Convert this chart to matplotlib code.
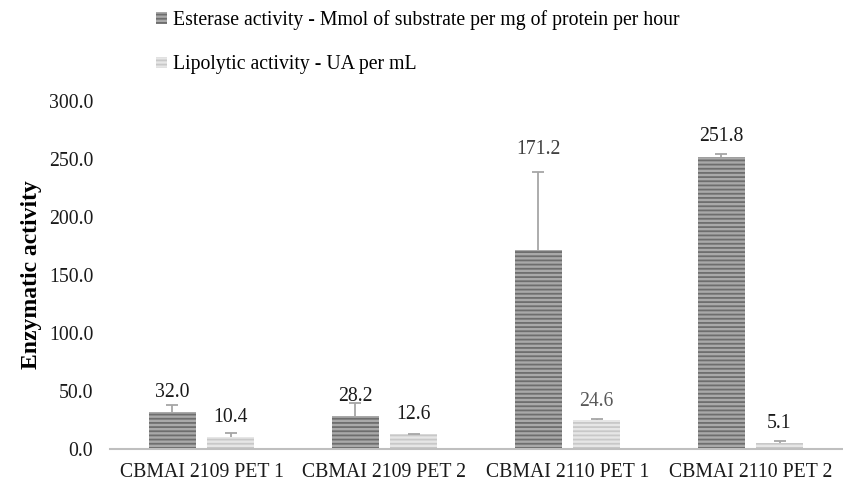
import numpy as np
import matplotlib
matplotlib.use('Agg')
import matplotlib.pyplot as plt

# Data
categories = ["CBMAI 2109 PET 1", "CBMAI 2109 PET 2", "CBMAI 2110 PET 1", "CBMAI 2110 PET 2"]
esterase = [32.0, 28.2, 171.2, 251.8]
esterase_err = [6.0, 11.4, 67.6, 2.5]
lipolytic = [10.4, 12.6, 24.6, 5.1]
lipolytic_err = [3.4, 0.5, 1.3, 1.8]
series_names = ["Esterase activity - Mmol of substrate per mg of protein per hour",
                "Lipolytic activity - UA per mL"]
yticks = [0, 50, 100, 150, 200, 250, 300]

# label gap above the error bar (data units), tuned per label
est_label_pad = [11, 6, 19, 15]
lip_label_pad = [13, 17, 15, 15]
est_label_colors = ['#1a1a1a', '#1a1a1a', '#404040', '#1a1a1a']
lip_label_colors = ['#1a1a1a', '#1a1a1a', '#595959', '#1a1a1a']

plt.rcParams['font.family'] = ['Liberation Serif', 'DejaVu Serif']
plt.rcParams['hatch.linewidth'] = 1.3

fig = plt.figure(figsize=(8.43, 4.82), dpi=100, facecolor='white')
ax = fig.add_axes([110 / 843, 1 - 449 / 482, 732 / 843, 348 / 482])

x = np.arange(len(categories))
width = 0.262
gap = 0.055
x_est = x - (width + gap) / 2
x_lip = x + (width + gap) / 2

b1 = ax.bar(x_est, esterase, width, color='#a9a9a9', edgecolor='#6e6e6e',
            hatch='----', linewidth=0, label=series_names[0])
b2 = ax.bar(x_lip, lipolytic, width, color='#e6e6e6', edgecolor='#c8c8c8',
            hatch='----', linewidth=0, label=series_names[1])


def plus_error(xs, vals, errs):
    # Excel style "plus" error bars: stem upward plus one cap on top
    tops = np.array(vals) + np.array(errs)
    ax.vlines(xs, vals, tops, colors='#a6a6a6', linewidth=1.3, zorder=3)
    ax.plot(xs, tops, linestyle='none', marker='_', markersize=9,
            markeredgewidth=1.3, color='#a6a6a6', zorder=3)


plus_error(x_est, esterase, esterase_err)
plus_error(x_lip, lipolytic, lipolytic_err)

for i in range(len(categories)):
    ax.text(x_est[i], esterase[i] + esterase_err[i] + est_label_pad[i], f"{esterase[i]:.1f}",
            ha='center', va='center', fontsize=14.2, color=est_label_colors[i])
    ax.text(x_lip[i], lipolytic[i] + lipolytic_err[i] + lip_label_pad[i], f"{lipolytic[i]:.1f}",
            ha='center', va='center', fontsize=14.2, color=lip_label_colors[i])

ax.set_xlim(-0.5, len(categories) - 0.5)
ax.set_ylim(0, 300)
ax.set_yticks(yticks)
ax.set_yticklabels([f"{v:.1f}" for v in yticks], fontsize=14.2, color='#1a1a1a')
ax.set_xticks(x)
ax.set_xticklabels(categories, fontsize=14.2, color='#1a1a1a')
ax.tick_params(axis='both', length=0)
ax.tick_params(axis='y', pad=12)
ax.tick_params(axis='x', pad=10)

for side in ['top', 'right', 'left']:
    ax.spines[side].set_visible(False)
ax.spines['bottom'].set_color('#bfbfbf')
ax.spines['bottom'].set_linewidth(1.5)

ax.set_ylabel("Enzymatic activity", fontsize=17, fontweight='bold', labelpad=5)

fig.legend(handles=[b1, b2], loc='upper left', bbox_to_anchor=(142 / 843, 1.008),
           frameon=False, fontsize=14.2, handlelength=0.55, handleheight=0.55,
           handletextpad=0.3, labelspacing=1.3, borderaxespad=0.3)

fig.savefig('out.png', dpi=100, facecolor='white')
